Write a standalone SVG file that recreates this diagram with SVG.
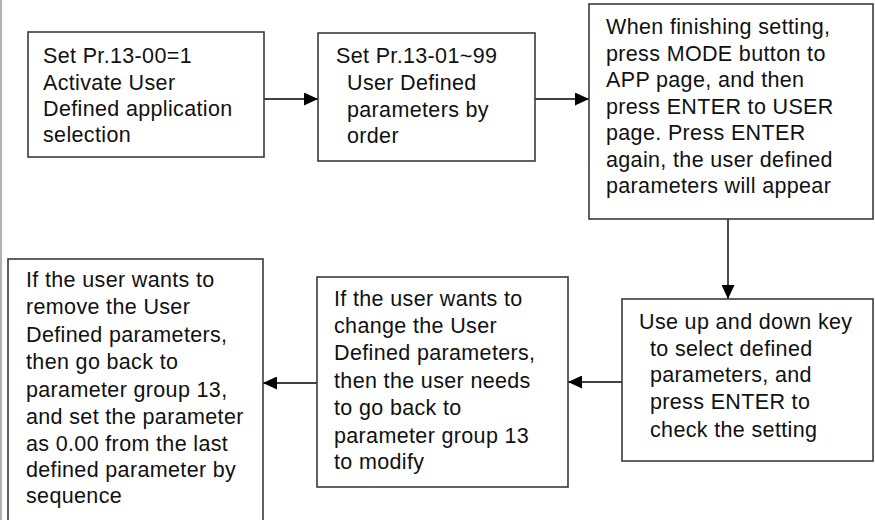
<svg xmlns="http://www.w3.org/2000/svg" width="875" height="520" viewBox="0 0 875 520">
<defs>
<marker id="arr" markerUnits="userSpaceOnUse" markerWidth="14" markerHeight="13" refX="14" refY="6.5" orient="auto">
<path d="M0,0 L14,6.5 L0,13 z" fill="#000"/>
</marker>
<style>
.box{fill:#fff;stroke:#3a3a3a;stroke-width:1.6}
.t{font-family:"Liberation Sans",Arial,sans-serif;font-size:21.5px;fill:#111;letter-spacing:0.35px}
.c{stroke:#000;stroke-width:1.4;fill:none;marker-end:url(#arr)}
</style>
</defs>
<rect width="875" height="520" fill="#fff"/>
<line x1="1" y1="0" x2="1" y2="520" stroke="#9a9a9a" stroke-width="1.5"/>
<g id="connectors">
<line class="c" x1="264" y1="99" x2="318" y2="99"/>
<line class="c" x1="535" y1="99" x2="589" y2="99"/>
<line class="c" x1="728" y1="219" x2="728" y2="299"/>
<line class="c" x1="622" y1="382" x2="568" y2="382"/>
<line class="c" x1="317" y1="383" x2="263" y2="383"/>
</g>
<g id="n1">
<rect class="box" x="28" y="32" width="236" height="125"/>
<text class="t"><tspan x="43" y="63">Set Pr.13-00=1</tspan><tspan x="43" y="90">Activate User</tspan><tspan x="43" y="116">Defined application</tspan><tspan x="43" y="142">selection</tspan></text>
</g>
<g id="n2">
<rect class="box" x="318" y="33" width="217" height="128"/>
<text class="t"><tspan x="336" y="63">Set Pr.13-01~99</tspan><tspan x="347" y="90">User Defined</tspan><tspan x="347" y="117">parameters by</tspan><tspan x="347" y="143">order</tspan></text>
</g>
<g id="n3">
<rect class="box" x="589" y="4" width="284" height="215"/>
<text class="t"><tspan x="606" y="34">When finishing setting,</tspan><tspan x="606" y="61">press MODE button to</tspan><tspan x="606" y="87">APP page, and then</tspan><tspan x="606" y="114">press ENTER to USER</tspan><tspan x="606" y="140">page. Press ENTER</tspan><tspan x="606" y="167">again, the user defined</tspan><tspan x="606" y="193">parameters will appear</tspan></text>
</g>
<g id="n4">
<rect class="box" x="622" y="299" width="251" height="162"/>
<text class="t"><tspan x="639" y="329">Use up and down key</tspan><tspan x="650" y="356">to select defined</tspan><tspan x="650" y="382">parameters, and</tspan><tspan x="650" y="409">press ENTER to</tspan><tspan x="650" y="437">check the setting</tspan></text>
</g>
<g id="n5">
<rect class="box" x="317" y="277" width="251" height="210"/>
<text class="t"><tspan x="334" y="306">If the user wants to</tspan><tspan x="334" y="333">change the User</tspan><tspan x="334" y="360">Defined parameters,</tspan><tspan x="334" y="388">then the user needs</tspan><tspan x="334" y="415">to go back to</tspan><tspan x="334" y="443">parameter group 13</tspan><tspan x="334" y="469">to modify</tspan></text>
</g>
<g id="n6">
<rect class="box" x="8" y="259" width="255" height="275"/>
<text class="t"><tspan x="26" y="287">If the user wants to</tspan><tspan x="26" y="314">remove the User</tspan><tspan x="26" y="342">Defined parameters,</tspan><tspan x="26" y="369">then go back to</tspan><tspan x="26" y="397">parameter group 13,</tspan><tspan x="26" y="424">and set the parameter</tspan><tspan x="26" y="451">as 0.00 from the last</tspan><tspan x="26" y="477">defined parameter by</tspan><tspan x="26" y="503">sequence</tspan></text>
</g>
</svg>
